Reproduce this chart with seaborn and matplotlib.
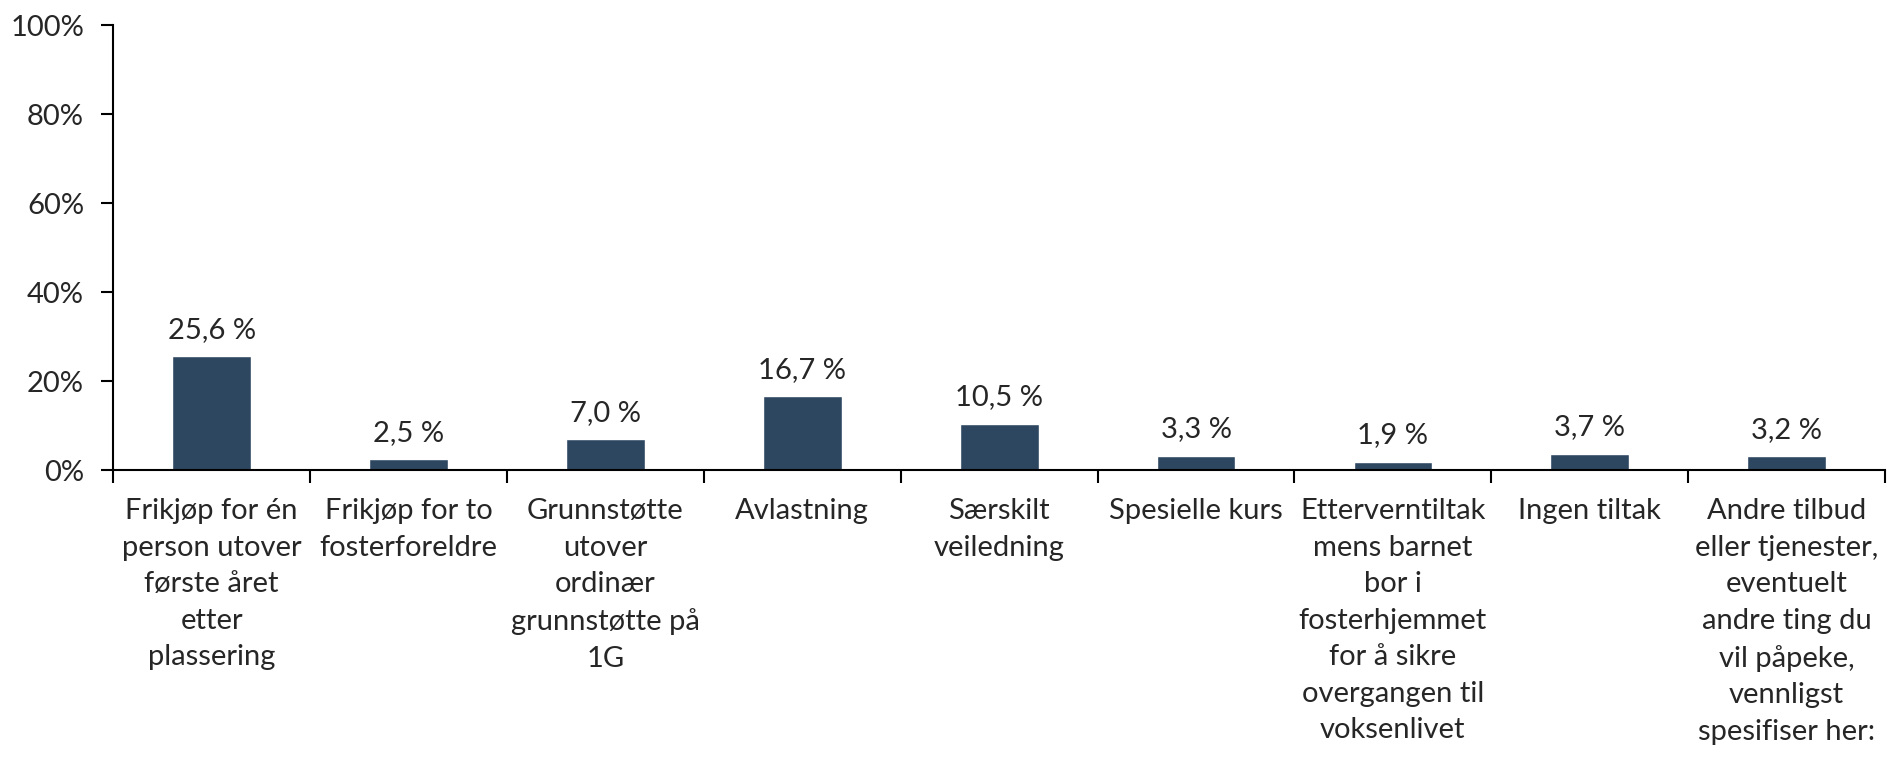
import matplotlib
matplotlib.use("Agg")
import matplotlib.pyplot as plt
import seaborn as sns
from matplotlib.ticker import FixedLocator, PercentFormatter

# ----------------------------------------
# Data
# ----------------------------------------
categories = [
    "Frikjøp for én\nperson utover\nførste året\netter\nplassering",
    "Frikjøp for to\nfosterforeldre",
    "Grunnstøtte\nutover\nordinær\ngrunnstøtte på\n1G",
    "Avlastning",
    "Særskilt\nveiledning",
    "Spesielle kurs",
    "Etterverntiltak\nmens barnet\nbor i\nfosterhjemmet\nfor å sikre\novergangen til\nvoksenlivet",
    "Ingen tiltak",
    "Andre tilbud\neller tjenester,\neventuelt\nandre ting du\nvil påpeke,\nvennligst\nspesifiser her:",
]
values = [25.6, 2.5, 7.0, 16.7, 10.5, 3.3, 1.9, 3.7, 3.2]
y_ticks = [0, 20, 40, 60, 80, 100]

sns.set_style("white")
plt.rcParams["font.family"] = ["Lato", "DejaVu Sans"]

fig = plt.figure(figsize=(18.87, 7.61), dpi=100)
ax = fig.add_axes([0.06, 0.382, 0.939, 0.585])

sns.barplot(x=list(range(len(values))), y=values, color="#2E4760",
            width=0.4, saturation=1, ax=ax)

for i, v in enumerate(values):
    ax.text(i, v + 3.0, f"{v:.1f} %".replace(".", ","), ha="center",
            va="bottom", fontsize=21)

ax.set_xlim(-0.5, len(values) - 0.5)
ax.set_ylim(0, 100)
ax.set_yticks(y_ticks)
ax.yaxis.set_major_formatter(PercentFormatter(decimals=0))
ax.set_xticks(range(len(values)))
ax.set_xticklabels(categories, fontsize=21, linespacing=1.5)
ax.xaxis.set_minor_locator(FixedLocator([i - 0.5 for i in range(len(values) + 1)]))

ax.tick_params(axis="x", which="both", bottom=True)
ax.tick_params(axis="x", which="major", length=0, pad=20)
ax.tick_params(axis="x", which="minor", length=9, width=1.5, color="black", direction="out")
ax.tick_params(axis="y", left=True, length=9, width=1.5, color="black", direction="out",
               labelsize=21, pad=12)

for side in ["top", "right"]:
    ax.spines[side].set_visible(False)
for side in ["left", "bottom"]:
    ax.spines[side].set_color("black")
    ax.spines[side].set_linewidth(1.5)

ax.set_xlabel("")
ax.set_ylabel("")

fig.savefig("out.png", dpi=100)
